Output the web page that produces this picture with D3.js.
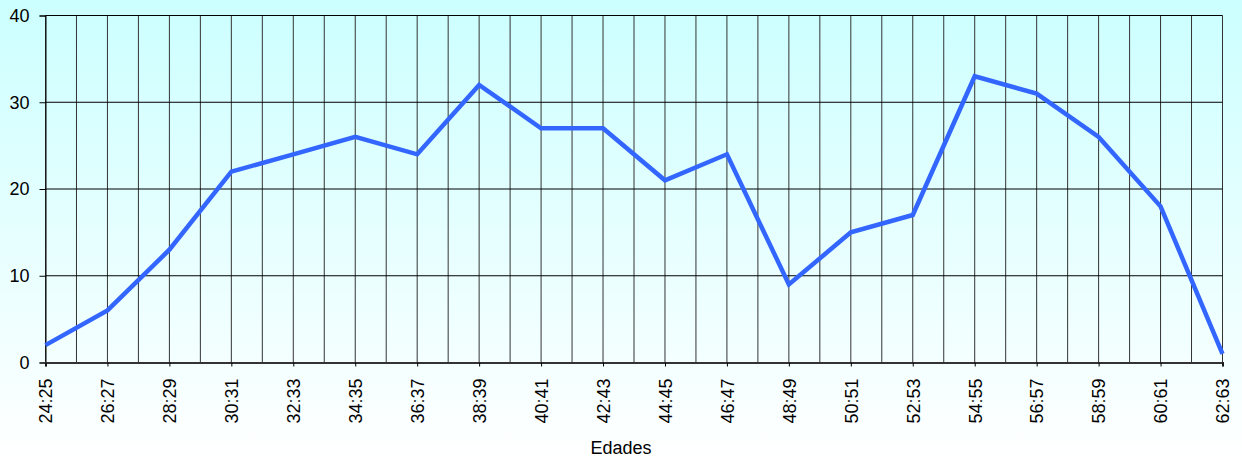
<!DOCTYPE html>
<html><head><meta charset="utf-8">
<script src="https://cdn.jsdelivr.net/npm/d3@7"></script>
<style>html,body{margin:0;padding:0;background:#fff;}svg{display:block;}</style>
</head><body>
<script>
const categories = ["24:25","26:27","28:29","30:31","32:33","34:35","36:37","38:39","40:41","42:43","44:45","46:47","48:49","50:51","52:53","54:55","56:57","58:59","60:61","62:63"];
const values = [2,6,13,22,24,26,24,32,27,27,21,24,9,15,17,33,31,26,18,1];
const yTicks = [0,10,20,30,40];
const xTitle = "Edades";

const W = 1242, H = 459;
const m = {left:45.5, right:W-1222.5, top:15.5, bottom:H-362.5};
const svg = d3.select("body").append("svg").attr("width",W).attr("height",H);
const defs = svg.append("defs");
const grad = defs.append("linearGradient").attr("id","bg").attr("x1",0).attr("y1",0).attr("x2",0).attr("y2",1);
grad.append("stop").attr("offset","0%").attr("stop-color","#ccffff");
grad.append("stop").attr("offset","100%").attr("stop-color","#ffffff");
svg.append("rect").attr("width",W).attr("height",H).attr("fill","url(#bg)");

const x = d3.scaleLinear().domain([0,categories.length-1]).range([m.left, W-m.right]);
const y = d3.scaleLinear().domain([0,40]).range([H-m.bottom, m.top]);
const font = "Liberation Sans, Arial, sans-serif";
const fs = 18;

// vertical gridlines (every half category)
const halves = d3.range(0, (categories.length-1)*2+1).map(i=>i/2);
svg.append("g").selectAll("line").data(halves).join("line")
  .attr("x1",d=>x(d)).attr("x2",d=>x(d)).attr("y1",y(0)).attr("y2",y(40))
  .attr("stroke","#333").attr("stroke-width",1);
// horizontal gridlines
svg.append("g").selectAll("line").data(yTicks).join("line")
  .attr("x1",x(0)).attr("x2",x(categories.length-1)).attr("y1",d=>y(d)).attr("y2",d=>y(d))
  .attr("stroke","#000").attr("stroke-width",1);

// y axis
const yAxis = svg.append("g").attr("transform",`translate(${m.left},0)`)
  .call(d3.axisLeft(y).tickValues(yTicks).tickSize(6).tickPadding(10).tickFormat(d3.format("d")));
yAxis.select(".domain").attr("stroke","#000");
yAxis.selectAll("line").attr("stroke","#000");
yAxis.selectAll("text").attr("font-family",font).attr("font-size",fs).attr("fill","#000");

// x axis
const xAxis = svg.append("g").attr("transform",`translate(0,${H-m.bottom})`)
  .call(d3.axisBottom(x).tickValues(d3.range(categories.length)).tickSize(4).tickFormat(i=>categories[i]));
xAxis.select(".domain").attr("stroke","#333").attr("stroke-width",2);
xAxis.selectAll("line").attr("stroke","#000");
xAxis.selectAll("text").attr("font-family",font).attr("font-size",fs).attr("fill","#000")
  .attr("text-anchor","end").attr("transform","rotate(-90)").attr("dy","0.35em").attr("x",-16).attr("y",0);

// x title
svg.append("text").attr("x",W/2).attr("y",454).attr("text-anchor","middle")
  .attr("font-family",font).attr("font-size",fs).attr("fill","#000").text(xTitle);

// line
svg.append("path").datum(values)
  .attr("d", d3.line().x((d,i)=>x(i)).y(d=>y(d)))
  .attr("fill","none").attr("stroke","#3366ff").attr("stroke-width",4.5).attr("stroke-linejoin","miter");
</script>
</body></html>
